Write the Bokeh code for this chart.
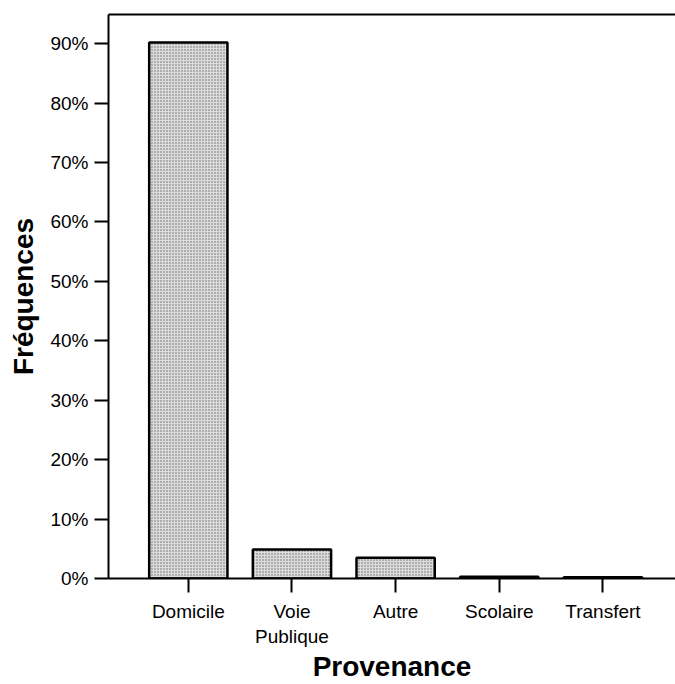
from bokeh.plotting import figure
from bokeh.models import ColumnDataSource, FixedTicker, PrintfTickFormatter, Range1d, LinearAxis
from bokeh.embed import file_html
from bokeh.resources import INLINE

categories = ["Domicile", "Voie\nPublique", "Autre", "Scolaire", "Transfert"]
frequences = [90.2, 4.9, 3.5, 0.3, 0.2]
y_ticks = [0, 10, 20, 30, 40, 50, 60, 70, 80, 90]

xpos = list(range(len(categories)))
src = ColumnDataSource(dict(x=xpos, top=frequences))

p = figure(width=675, height=684, output_backend="svg", toolbar_location=None,
           x_range=Range1d(-0.77, 4.70), y_range=Range1d(0, 94.9),
           min_border_left=108, min_border_right=0, min_border_top=14, min_border_bottom=106)
p.outline_line_color = None
p.xgrid.visible = False
p.ygrid.visible = False
p.background_fill_color = "white"
p.border_fill_color = "white"

p.vbar(x="x", top="top", bottom=0, width=0.755, source=src,
       fill_color="#dcdcdc", line_color="black", line_width=2.5,
       hatch_pattern="dot", hatch_color="#666666", hatch_scale=3, hatch_weight=1)

# y axis
ya = p.yaxis[0]
ya.ticker = FixedTicker(ticks=y_ticks)
ya.formatter = PrintfTickFormatter(format="%d%%")
ya.axis_line_width = 2
ya.major_tick_line_width = 2
ya.major_tick_out = 14
ya.major_tick_in = 0
ya.minor_tick_line_color = None
ya.major_label_text_font = "Liberation Sans"
ya.major_label_text_font_size = "19px"
ya.major_label_text_color = "black"
ya.major_label_standoff = 6
ya.axis_label = "Fréquences"
ya.axis_label_text_font = "Liberation Sans"
ya.axis_label_text_font_style = "bold"
ya.axis_label_text_font_size = "28px"
ya.axis_label_text_color = "black"
ya.axis_label_standoff = 8

# x axis
xa = p.xaxis[0]
xa.ticker = FixedTicker(ticks=xpos)
xa.major_label_overrides = {i: c for i, c in enumerate(categories)}
xa.axis_line_width = 2
xa.major_tick_line_width = 2
xa.major_tick_out = 14
xa.major_tick_in = 0
xa.minor_tick_line_color = None
xa.major_label_text_font = "Liberation Sans"
xa.major_label_text_font_size = "19px"
xa.major_label_text_color = "black"
xa.major_label_standoff = 8
xa.axis_label = "Provenance"
xa.axis_label_text_font = "Liberation Sans"
xa.axis_label_text_font_style = "bold"
xa.axis_label_text_font_size = "28px"
xa.axis_label_text_color = "black"
xa.axis_label_standoff = 1

# top border line
top = LinearAxis(ticker=FixedTicker(ticks=[]), axis_line_width=2,
                 major_label_text_font_size="0px")
p.add_layout(top, "above")

open("out.html", "w").write(file_html(p, INLINE))
